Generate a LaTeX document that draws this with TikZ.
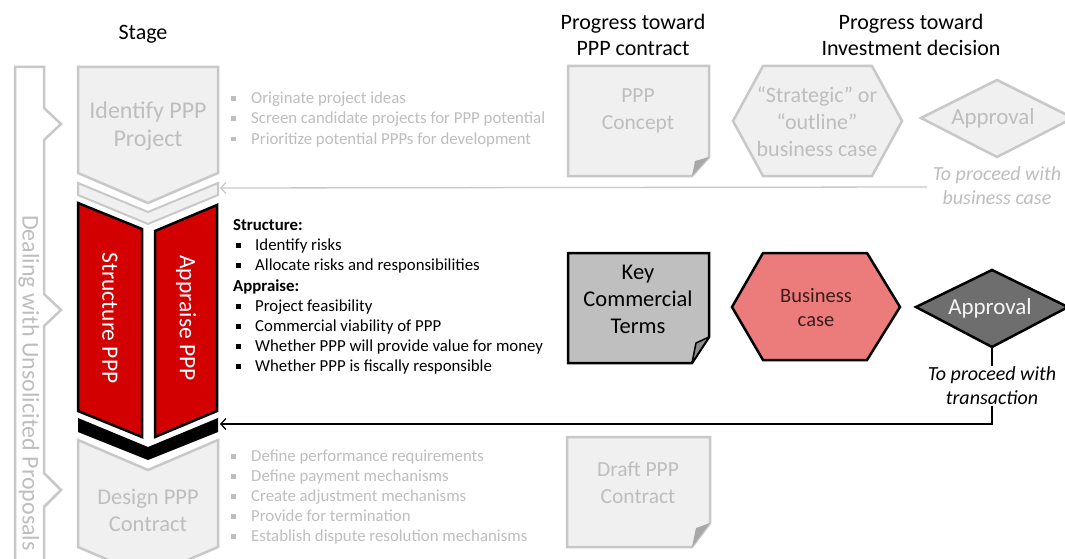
\documentclass[tikz,border=0pt]{standalone}
\usepackage{fontspec}
\setmainfont{Carlito}
\usetikzlibrary{arrows.meta,calc}
\definecolor{lgfill}{HTML}{F0F0F0}
\definecolor{lgline}{HTML}{C8C8C8}
\definecolor{lgtext}{HTML}{BEBEBE}
\definecolor{lgfold}{HTML}{A8A8A8}
\definecolor{pppred}{HTML}{D20000}
\definecolor{bcfill}{HTML}{EC7C7C}
\definecolor{bctext}{HTML}{3A1C1C}
\definecolor{kctfill}{HTML}{BFBFBF}
\definecolor{kctfold}{HTML}{8C8C8C}
\definecolor{apfill}{HTML}{6E6E6E}
\newcommand{\graybul}{\makebox[20pt][l]{\raisebox{2.5pt}{\rule{5pt}{5pt}}}}
\newcommand{\blackbul}{\makebox[19pt][l]{\raisebox{2.5pt}{\rule{5pt}{5pt}}}}
\begin{document}
\begin{tikzpicture}[x=1pt,y=-1pt,
  grayshape/.style={draw=lgline, fill=lgfill, line width=2.5pt, line join=miter},
  blackshape/.style={draw=black, line width=2.5pt, line join=miter},
  head/.style={font=\fontsize{22}{26}\selectfont, align=center, inner sep=0pt},
  graytxt/.style={text=lgtext, align=center, inner sep=0pt, font=\fontsize{21.5}{27}\selectfont},
  bl/.style={anchor=west, inner sep=0pt, text height=11pt, text depth=3pt, font=\fontsize{16.8}{19}\selectfont},
  vtxt/.style={rotate=-90, text=white, inner sep=0pt, font=\fontsize{23.5}{26}\selectfont},
  note/.style={align=center, inner sep=1pt, font=\itshape\fontsize{20}{24}\selectfont},
  arr/.style={line width=1.3pt, -{Straight Barb[length=5pt,width=11pt,line width=1.3pt]}}
]
\useasboundingbox (0,0) rectangle (1065,559);
\fill[white] (0,0) rectangle (1065,559);

% headers
\node[head] (hstage) at (143,34) {Stage};
\node[head] (hcontract) at (633,35) {Progress toward\\PPP contract};
\node[head] (hinvest) at (911,35) {Progress toward\\Investment decision};

% left bar: dealing with unsolicited proposals
\draw[draw=lgline, fill=white, line width=2.5pt, line join=miter]
  (15,575) -- (15,67) -- (44,67) -- (44,108) -- (61,124) -- (44,140)
  -- (44,294) -- (61,310) -- (44,326) -- (44,473) -- (61,490) -- (44,507) -- (44,575);
\node[rotate=-90, text=lgtext, inner sep=0pt, font=\fontsize{24}{28}\selectfont] (dealing) at (29,383) {Dealing with Unsolicited Proposals};

% stage: identify
\draw[grayshape] (78,67) -- (218,67) -- (218,173) -- (148,203) -- (78,173) -- cycle;
\node[graytxt, font=\fontsize{24}{28}\selectfont] (identify) at (148,126) {Identify PPP\\Project};
% upper band
\draw[grayshape, line width=2pt] (78,183) -- (148,212) -- (218,183) -- (218,195) -- (148,224) -- (78,195) -- cycle;
\coordinate (bandR) at (220,188);

% red stages
\draw[blackshape, fill=pppred] (78,203) -- (142,229) -- (142,437) -- (78,411) -- cycle;
\draw[blackshape, fill=pppred] (155,231) -- (217,205) -- (217,411) -- (155,437) -- cycle;
\node[vtxt] (structure) at (110,318) {Structure PPP};
\node[vtxt] (appraise) at (186,318) {Appraise PPP};

% black band
\fill[black] (78,418) -- (148,447) -- (218,418) -- (218,432) -- (148,460) -- (78,432) -- cycle;
\coordinate (blackR) at (220,424);

% stage: design
\draw[grayshape] (78,440) -- (148,470) -- (218,440) -- (218,547) -- (148,577) -- (78,547) -- cycle;
\node[graytxt, font=\fontsize{22.5}{27}\selectfont] (design) at (148,510) {Design PPP\\Contract};

% gray list (identify)
\node[bl, text=lgtext] (i1) at (231,100) {\graybul Originate project ideas};
\node[bl, text=lgtext] (i2) at (231,120) {\graybul Screen candidate projects for PPP potential};
\node[bl, text=lgtext] (i3) at (231,140) {\graybul Prioritize potential PPPs for development};

% black list
\node[bl] (s0) at (233,226) {\bfseries Structure:};
\node[bl] (s1) at (236,246) {\blackbul Identify risks};
\node[bl] (s2) at (236,266) {\blackbul Allocate risks and responsibilities};
\node[bl] (a0) at (233,287) {\bfseries Appraise:};
\node[bl] (a1) at (236,307) {\blackbul Project feasibility};
\node[bl] (a2) at (236,327) {\blackbul Commercial viability of PPP};
\node[bl] (a3) at (236,347) {\blackbul Whether PPP will provide value for money};
\node[bl] (a4) at (236,367) {\blackbul Whether PPP is fiscally responsible};

% gray list (design)
\node[bl, text=lgtext] (d1) at (231,457) {\graybul Define performance requirements};
\node[bl, text=lgtext] (d2) at (231,477) {\graybul Define payment mechanisms};
\node[bl, text=lgtext] (d3) at (231,497) {\graybul Create adjustment mechanisms};
\node[bl, text=lgtext] (d4) at (231,517) {\graybul Provide for termination};
\node[bl, text=lgtext] (d5) at (231,537) {\graybul Establish dispute resolution mechanisms};

% PPP concept document
\draw[grayshape] (568,66) -- (709,66) -- (709,157) -- (692,176) -- (568,176) -- cycle;
\fill[lgfold] (709,157) -- (692,176) -- (695,161) -- cycle;
\node[graytxt] (concept) at (638,111) {PPP\\Concept};

% strategic hexagon
\draw[grayshape] (733,121) -- (763,66) -- (872,66) -- (902,121) -- (872,176) -- (763,176) -- cycle;
\node[graytxt, font=\fontsize{22}{27}\selectfont] (strategic) at (817,122) {“Strategic” or\\“outline”\\business case};

% gray approval diamond
\draw[grayshape] (921,118) -- (997,80) -- (1073,118) -- (997,157) -- cycle;
\node[graytxt, font=\fontsize{23}{27}\selectfont] (approval1) at (993,118) {Approval};
\coordinate (ap1s) at (997,157);
\node[note, text=lgtext] (proc1) at (997,186) {To proceed with\\business case};
\coordinate (bcend) at (927,187);
\draw[lgline, arr] (bcend) -- (bandR);

% key commercial terms document
\draw[blackshape, fill=kctfill] (568,253) -- (709,253) -- (709,337) -- (692,363) -- (568,363) -- cycle;
\filldraw[kctfold, draw=black, line width=1.5pt, line join=round] (709,337) -- (692,363) -- (696,343) -- cycle;
\node[align=center, inner sep=0pt, font=\fontsize{22.5}{27}\selectfont] (kct) at (638,299) {Key\\Commercial\\Terms};

% business case hexagon
\draw[blackshape, fill=bcfill] (732,307) -- (763,253) -- (867,253) -- (900,307) -- (867,360) -- (763,360) -- cycle;
\node[align=center, inner sep=0pt, text=bctext, font=\fontsize{20.5}{24}\selectfont] (bcase) at (816,308) {Business\\case};

% dark approval diamond
\draw[blackshape, fill=apfill] (916,307) -- (992,270) -- (1068,307) -- (992,347) -- cycle;
\node[inner sep=0pt, text=white!92!gray, font=\fontsize{23}{26}\selectfont] (approval2) at (990,308) {Approval};
\coordinate (ap2s) at (992,347);
\node[note] (proc2) at (992,386) {To proceed with\\transaction};
\draw[line width=1.3pt] (ap2s) -- (proc2.north);
\draw[arr, black] (proc2.south) |- (blackR);

% draft contract document
\draw[grayshape] (567,437) -- (710,437) -- (710,523) -- (692,547) -- (567,547) -- cycle;
\fill[lgfold] (710,523) -- (692,547) -- (696,528) -- cycle;
\node[graytxt] (draft) at (638,483) {Draft PPP\\Contract};
\end{tikzpicture}
\end{document}
